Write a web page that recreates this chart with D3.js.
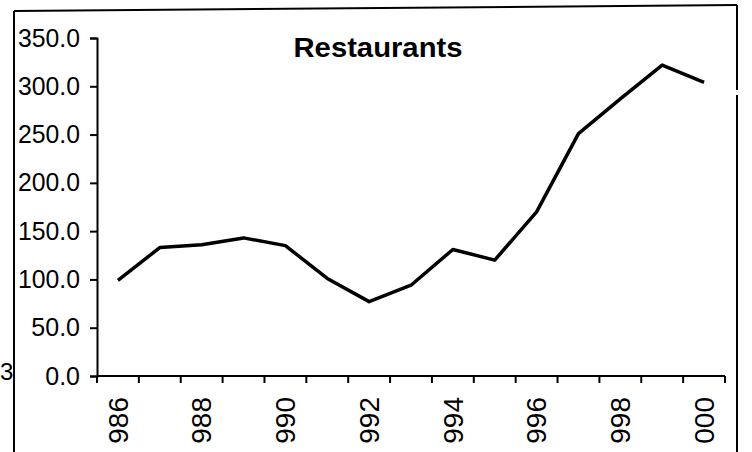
<!DOCTYPE html>
<html>
<head>
<meta charset="utf-8">
<script src="https://cdn.jsdelivr.net/npm/d3@7"></script>
<style>
  html, body { margin: 0; padding: 0; background: #fff; }
  svg { display: block; font-family: "Liberation Sans", Arial, sans-serif; }
</style>
</head>
<body>
<script>
// data
const years = [1986, 1987, 1988, 1989, 1990, 1991, 1992, 1993, 1994, 1995, 1996, 1997, 1998, 1999, 2000];
const values = [99, 133, 136, 143, 135, 101, 77, 94, 131, 120, 170, 251, 287, 322, 304];
const yTicks = [0, 50, 100, 150, 200, 250, 300, 350];
// the scan cuts off the first digit of each year label
const labelYears = [1986, 1988, 1990, 1992, 1994, 1996, 1998, 2000];
const title = "Restaurants";

const width = 752, height = 452;
const plot = {left: 97, right: 725, top: 38, bottom: 376};

const svg = d3.select("body").append("svg").attr("width", width).attr("height", height);

// outer frame (scan is slightly tilted at the top)
svg.append("line").attr("x1", 14).attr("y1", 11).attr("x2", 14).attr("y2", height)
  .attr("stroke", "#000").attr("stroke-width", 2);
svg.append("line").attr("x1", 14).attr("y1", 11).attr("x2", 737).attr("y2", 5)
  .attr("stroke", "#000").attr("stroke-width", 2);
svg.append("line").attr("x1", 737).attr("y1", 5).attr("x2", 737).attr("y2", 90)
  .attr("stroke", "#000").attr("stroke-width", 2);
svg.append("line").attr("x1", 737).attr("y1", 95).attr("x2", 737).attr("y2", height)
  .attr("stroke", "#000").attr("stroke-width", 2);

// stray label fragment left of the frame
svg.append("text").attr("x", 0).attr("y", 380).attr("text-anchor", "start")
  .attr("font-size", 24).text("3");

const x = d3.scaleBand().domain(years).range([plot.left, plot.right]).padding(0);
const y = d3.scaleLinear().domain([0, 350]).range([plot.bottom, plot.top]);

// y axis
const yAxis = d3.axisLeft(y).tickValues(yTicks).tickFormat(d3.format(".1f"))
  .tickSize(7).tickPadding(10);
const gy = svg.append("g").attr("transform", "translate(" + plot.left + ",0)").call(yAxis);
gy.select(".domain").attr("stroke-width", 2);
gy.selectAll(".tick line").attr("stroke-width", 2);
gy.selectAll("text").attr("font-size", 25).attr("fill", "#000")
  .attr("textLength", 62).attr("lengthAdjust", "spacingAndGlyphs")
  .filter(d => d < 100).attr("textLength", null);

// x axis: ticks between categories, labels every other year
const gx = svg.append("g").attr("transform", "translate(0," + plot.bottom + ")");
gx.append("line").attr("x1", plot.left).attr("x2", plot.right)
  .attr("stroke", "#000").attr("stroke-width", 2);
const bounds = years.map(d => x(d)).concat([plot.right]);
gx.selectAll("line.tk").data(bounds).enter().append("line").attr("class", "tk")
  .attr("x1", d => d).attr("x2", d => d).attr("y1", 0).attr("y2", 7)
  .attr("stroke", "#000").attr("stroke-width", 2);
gx.selectAll("text").data(labelYears).enter().append("text")
  .attr("transform", d => "translate(" + (x(d) + x.bandwidth() / 2) + ",21) rotate(-90)")
  .attr("dy", "0.35em").attr("text-anchor", "end").attr("font-size", 28)
  .text(d => String(d).slice(1));

// line
const line = d3.line().x((d, i) => x(years[i]) + x.bandwidth() / 2).y(d => y(d));
svg.append("path").datum(values).attr("d", line)
  .attr("fill", "none").attr("stroke", "#000").attr("stroke-width", 3.5)
  .attr("stroke-linejoin", "round");

// title
svg.append("text").attr("x", 378).attr("y", 57).attr("text-anchor", "middle")
  .attr("font-size", 27).attr("font-weight", "bold")
  .attr("textLength", 169).attr("lengthAdjust", "spacingAndGlyphs").text(title);
</script>
</body>
</html>
